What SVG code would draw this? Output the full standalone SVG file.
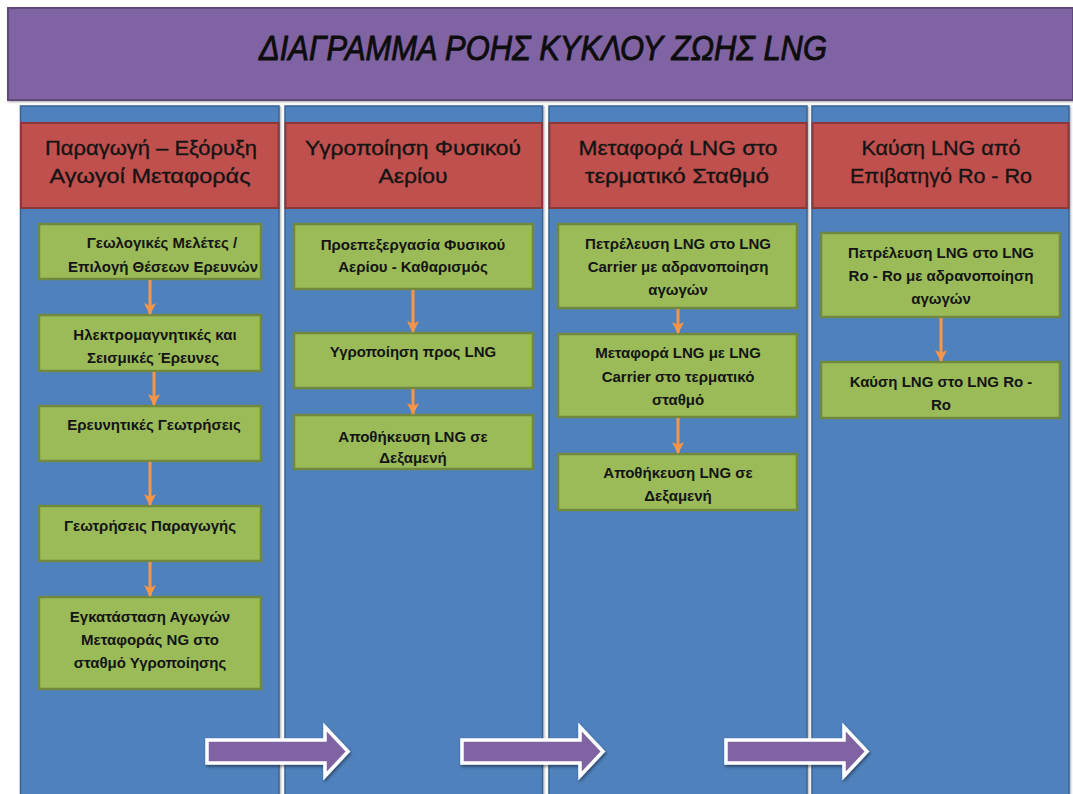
<svg xmlns="http://www.w3.org/2000/svg" width="1073" height="794" viewBox="0 0 1073 794">
<defs>
<style>
.col{fill:#4F81BD;stroke:#3A6496;stroke-width:1.5}
.hdr{fill:#C0504D;stroke:#8C3836;stroke-width:2}
.box{fill:#9BBB59;stroke:#71893F;stroke-width:2.5}
.ht{font-family:"Liberation Sans",Arial,sans-serif;font-size:21px;fill:#141414;stroke:#141414;stroke-width:0.35;text-anchor:middle}
.bt{font-family:"Liberation Sans",Arial,sans-serif;font-size:15px;font-weight:bold;fill:#141414;text-anchor:middle}
.con{stroke:#F79646;stroke-width:3;fill:none}
.bar{fill:#8064A2;stroke:#FFFFFF;stroke-width:3.5;stroke-linejoin:miter}
</style>
<marker id="oh" viewBox="0 0 12 12" refX="11" refY="6" markerWidth="12" markerHeight="12" markerUnits="userSpaceOnUse" orient="auto">
<path d="M0,0 L12,6 L0,12 L3,6 Z" fill="#F79646"/>
</marker>
<filter id="sh" x="-5%" y="-5%" width="110%" height="110%">
<feDropShadow dx="1" dy="1" stdDeviation="1.2" flood-color="#000" flood-opacity="0.35"/>
</filter>
<filter id="sh2" x="-10%" y="-20%" width="120%" height="150%">
<feDropShadow dx="1" dy="2" stdDeviation="1.5" flood-color="#000" flood-opacity="0.45"/>
</filter>
</defs>
<rect x="0" y="0" width="1073" height="794" fill="#FFFFFF"/>
<g id="title">
<rect x="8" y="8" width="1065" height="92" fill="#8064A2" stroke="#5E4A7A" stroke-width="2" filter="url(#sh)"/>
<text x="543" y="60" font-family="'Liberation Sans',Arial,sans-serif" font-size="35" font-style="italic" fill="#0d0d0d" stroke="#0d0d0d" stroke-width="0.9" text-anchor="middle" textLength="568" lengthAdjust="spacingAndGlyphs">ΔΙΑΓΡΑΜΜΑ ΡΟΗΣ ΚΥΚΛΟΥ ΖΩΗΣ LNG</text>
</g>
<g id="col1">
<rect class="col" x="20.5" y="106" width="258.5" height="700" filter="url(#sh)"/>
<rect class="hdr" x="21" y="123" width="257.5" height="85"/>
<text class="ht" x="151" y="155" textLength="212" lengthAdjust="spacingAndGlyphs">Παραγωγή – Εξόρυξη</text>
<text class="ht" x="150" y="183" textLength="201" lengthAdjust="spacingAndGlyphs">Αγωγοί Μεταφοράς</text>
</g>
<g id="col2">
<rect class="col" x="285" y="106" width="257.5" height="700" filter="url(#sh)"/>
<rect class="hdr" x="285.5" y="123" width="256.5" height="85"/>
<text class="ht" x="413" y="155" textLength="216" lengthAdjust="spacingAndGlyphs">Υγροποίηση Φυσικού</text>
<text class="ht" x="413" y="183" textLength="69" lengthAdjust="spacingAndGlyphs">Αερίου</text>
</g>
<g id="col3">
<rect class="col" x="549" y="106" width="258" height="700" filter="url(#sh)"/>
<rect class="hdr" x="549.5" y="123" width="257" height="85"/>
<text class="ht" x="678" y="155" textLength="199" lengthAdjust="spacingAndGlyphs">Μεταφορά LNG στο</text>
<text class="ht" x="677" y="183" textLength="184" lengthAdjust="spacingAndGlyphs">τερματικό Σταθμό</text>
</g>
<g id="col4">
<rect class="col" x="812" y="106" width="257" height="700" filter="url(#sh)"/>
<rect class="hdr" x="812.5" y="123" width="256" height="85"/>
<text class="ht" x="941" y="155" textLength="159" lengthAdjust="spacingAndGlyphs">Καύση LNG από</text>
<text class="ht" x="941" y="183" textLength="182" lengthAdjust="spacingAndGlyphs">Επιβατηγό Ro - Ro</text>
</g>
<g id="n1_1"><rect class="box" x="39" y="224" width="222" height="55"/>
<text class="bt" x="162" y="248">Γεωλογικές Μελέτες /</text>
<text class="bt" x="163" y="272">Επιλογή Θέσεων Ερευνών</text></g>
<g id="n1_2"><rect class="box" x="39" y="315" width="222" height="56"/>
<text class="bt" x="155" y="340">Ηλεκτρομαγνητικές και</text>
<text class="bt" x="153" y="363">Σεισμικές Έρευνες</text></g>
<g id="n1_3"><rect class="box" x="39" y="406" width="222" height="55"/>
<text class="bt" x="154" y="430">Ερευνητικές Γεωτρήσεις</text></g>
<g id="n1_4"><rect class="box" x="39" y="506" width="222" height="55"/>
<text class="bt" x="150" y="531">Γεωτρήσεις Παραγωγής</text></g>
<g id="n1_5"><rect class="box" x="39" y="597" width="222" height="92"/>
<text class="bt" x="150" y="622">Εγκατάσταση Αγωγών</text>
<text class="bt" x="150" y="645">Μεταφοράς NG στο</text>
<text class="bt" x="150" y="668">σταθμό Υγροποίησης</text></g>
<g id="n2_1"><rect class="box" x="294" y="224" width="239" height="65"/>
<text class="bt" x="413" y="250">Προεπεξεργασία Φυσικού</text>
<text class="bt" x="413" y="272">Αερίου - Καθαρισμός</text></g>
<g id="n2_2"><rect class="box" x="294" y="333" width="239" height="55"/>
<text class="bt" x="413" y="357">Υγροποίηση προς LNG</text></g>
<g id="n2_3"><rect class="box" x="294" y="415" width="239" height="54"/>
<text class="bt" x="413" y="442">Αποθήκευση LNG σε</text>
<text class="bt" x="413" y="463">Δεξαμενή</text></g>
<g id="n3_1"><rect class="box" x="558" y="224" width="239" height="84"/>
<text class="bt" x="678" y="249">Πετρέλευση LNG στο LNG</text>
<text class="bt" x="678" y="272">Carrier με αδρανοποίηση</text>
<text class="bt" x="678" y="295">αγωγών</text></g>
<g id="n3_2"><rect class="box" x="558" y="334" width="239" height="83"/>
<text class="bt" x="678" y="358">Μεταφορά LNG με LNG</text>
<text class="bt" x="678" y="382">Carrier στο τερματικό</text>
<text class="bt" x="678" y="405">σταθμό</text></g>
<g id="n3_3"><rect class="box" x="558" y="454" width="239" height="56"/>
<text class="bt" x="678" y="478">Αποθήκευση LNG σε</text>
<text class="bt" x="678" y="501">Δεξαμενή</text></g>
<g id="n4_1"><rect class="box" x="821" y="233" width="239" height="84"/>
<text class="bt" x="941" y="258">Πετρέλευση LNG στο LNG</text>
<text class="bt" x="941" y="281">Ro - Ro με αδρανοποίηση</text>
<text class="bt" x="941" y="304">αγωγών</text></g>
<g id="n4_2"><rect class="box" x="821" y="362" width="239" height="56"/>
<text class="bt" x="941" y="387">Καύση LNG στο LNG Ro -</text>
<text class="bt" x="941" y="410">Ro</text></g>
<g id="connectors">
<line class="con" x1="150" y1="280" x2="150" y2="314" marker-end="url(#oh)"/>
<line class="con" x1="154" y1="372" x2="154" y2="405" marker-end="url(#oh)"/>
<line class="con" x1="150" y1="462" x2="150" y2="505" marker-end="url(#oh)"/>
<line class="con" x1="150" y1="562" x2="150" y2="596" marker-end="url(#oh)"/>
<line class="con" x1="413" y1="290" x2="413" y2="332" marker-end="url(#oh)"/>
<line class="con" x1="413" y1="389" x2="413" y2="414" marker-end="url(#oh)"/>
<line class="con" x1="678" y1="309" x2="678" y2="333" marker-end="url(#oh)"/>
<line class="con" x1="678" y1="418" x2="678" y2="453" marker-end="url(#oh)"/>
<line class="con" x1="941" y1="318" x2="941" y2="361" marker-end="url(#oh)"/>
<path class="bar" filter="url(#sh2)" d="M207,740 L325,740 L325,727 L348,751.5 L325,776 L325,763 L207,763 Z"/>
<path class="bar" filter="url(#sh2)" d="M462,740 L580,740 L580,727 L603,751.5 L580,776 L580,763 L462,763 Z"/>
<path class="bar" filter="url(#sh2)" d="M726,740 L844,740 L844,727 L867,751.5 L844,776 L844,763 L726,763 Z"/>
</g>
</svg>
